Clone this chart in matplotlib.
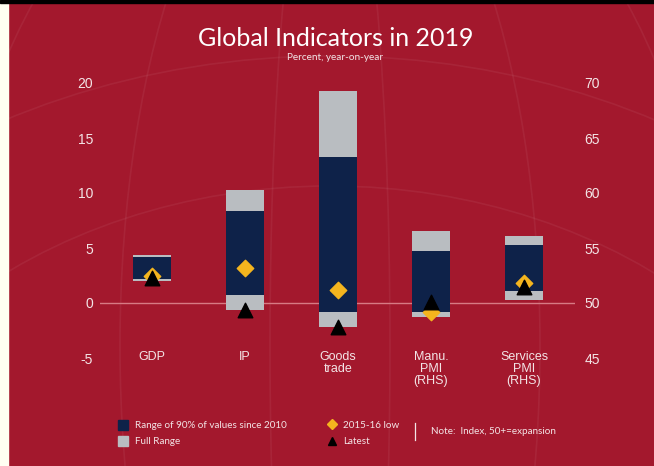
import matplotlib
matplotlib.use("Agg")
import matplotlib.pyplot as plt
from matplotlib.patches import Rectangle, Arc
from matplotlib.lines import Line2D

plt.rcParams["axes.unicode_minus"] = False

# ---------------- data ----------------
categories = ["GDP", "IP", "Goods\ntrade", "Manu.\nPMI\n(RHS)", "Services\nPMI\n(RHS)"]
# left-axis series (GDP, IP, Goods trade), percent y/y
left_full_low = [2.0, -0.6, -2.2]
left_full_high = [4.35, 10.3, 19.3]
left_p90_low = [2.2, 0.7, -0.8]
left_p90_high = [4.2, 8.4, 13.3]
left_low1516 = [2.5, 3.2, 1.2]
left_latest = [2.3, -0.6, -2.2]
# right-axis series (Manu. PMI, Services PMI), index
right_full_low = [48.7, 50.3]
right_full_high = [56.5, 56.1]
right_p90_low = [49.2, 51.1]
right_p90_high = [54.7, 55.3]
right_low1516 = [49.2, 51.8]
right_latest = [50.1, 51.5]

left_ticks = [-5, 0, 5, 10, 15, 20]
right_ticks = [45, 50, 55, 60, 65, 70]

# ---------------- style ----------------
BG = "#A3182D"
NAVY = "#0E2249"
GRAY = "#B9BDC1"
GOLD = "#F4B51E"
TXT = "#F3E4E6"
ZERO = "#D77A84"
W, H = 654, 466

fig = plt.figure(figsize=(W / 100, H / 100), dpi=100, facecolor=BG)

# faint globe grid decoration
deco = fig.add_axes([0, 0, 1, 1], zorder=0)
deco.set_xlim(0, W); deco.set_ylim(0, H); deco.axis("off")
deco.patch.set_alpha(0)
lc = (1, 1, 1, 0.055)
for r in [430, 560, 700, 860]:
    deco.add_patch(Arc((330, -150), 2 * r * 1.25, 2 * r, theta1=0, theta2=180, color=lc, lw=1.2))
for cx, w in [(330, 120), (330, 420), (330, 760), (330, 1150)]:
    deco.add_patch(Arc((cx, 120), w, 1100, theta1=0, theta2=360, color=lc, lw=1.2))
# scan border artefacts
deco.add_patch(Rectangle((0, 0), 8, H, color="#FFFFF2", zorder=5))
deco.add_patch(Rectangle((0, H - 3), W, 3, color="black", zorder=5))

# main axes: y from -5 (px 358) to 20 (px 83); x centres 152..524 step 93
x0px, x1px = 100, 575
ax = fig.add_axes([x0px / W, (H - 358) / H, (x1px - x0px) / W, (358 - 83) / H], zorder=2)
ax.patch.set_alpha(0)
ax.set_ylim(-5, 20)
ax.set_xlim(-(152 - x0px) / 93, 4 + (x1px - 524) / 93)
for s in ax.spines.values():
    s.set_visible(False)
ax.set_xticks([])
ax.set_yticks(left_ticks)
ax.tick_params(axis="y", length=0, pad=5, labelsize=10, labelcolor=TXT)
for lab in ax.get_yticklabels():
    lab.set_fontfamily("Liberation Sans")

ax2 = ax.twinx()
ax2.patch.set_alpha(0)
ax2.set_ylim(45, 70)
for s in ax2.spines.values():
    s.set_visible(False)
ax2.set_yticks(right_ticks)
ax2.tick_params(axis="y", length=0, pad=7, labelsize=10, labelcolor=TXT)
for lab in ax2.get_yticklabels():
    lab.set_fontfamily("Liberation Sans")

ax.axhline(0, color=ZERO, lw=1.0, zorder=1)

bw = 0.41
xl = [0, 1, 2]
xr = [3, 4]
ax.bar(xl, [h - l for h, l in zip(left_full_high, left_full_low)], bottom=left_full_low,
       width=bw, color=GRAY, zorder=2)
ax.bar(xl, [h - l for h, l in zip(left_p90_high, left_p90_low)], bottom=left_p90_low,
       width=bw, color=NAVY, zorder=3)
ax.scatter(xl, left_low1516, marker="D", s=70, color=GOLD, zorder=4)
ax.scatter(xl, left_latest, marker="^", s=110, color="black", zorder=5, clip_on=False)

ax2.bar(xr, [h - l for h, l in zip(right_full_high, right_full_low)], bottom=right_full_low,
        width=bw, color=GRAY, zorder=2)
ax2.bar(xr, [h - l for h, l in zip(right_p90_high, right_p90_low)], bottom=right_p90_low,
        width=bw, color=NAVY, zorder=3)
ax2.scatter(xr, right_low1516, marker="D", s=70, color=GOLD, zorder=4)
ax2.scatter(xr, right_latest, marker="^", s=110, color="black", zorder=5)

for i, c in enumerate(categories):
    ax.text(i, -5 + 6.5 / 11, c, ha="center", va="top", fontsize=9, color=TXT,
            linespacing=0.98, family="Liberation Sans")

# title
fig.text(336 / W, 1 - 38 / H, "Global Indicators in 2019", ha="center", va="center",
         fontsize=18, color="white", family="Lato")
fig.text(335 / W, 1 - 57 / H, "Percent, year-on-year", ha="center", va="center",
         fontsize=7.2, color=TXT, family="Lato")

# legend
def fx(px):
    return px / W

def fy(py):
    return 1 - py / H

fig.add_artist(Line2D([fx(123)], [fy(425)], marker="s", ms=6.5, color=NAVY, ls="none"))
fig.add_artist(Line2D([fx(123)], [fy(441)], marker="s", ms=6.5, color=GRAY, ls="none"))
fig.add_artist(Line2D([fx(332)], [fy(424)], marker="D", ms=5, color=GOLD, ls="none"))
fig.add_artist(Line2D([fx(332)], [fy(441)], marker="^", ms=6, color="black", ls="none"))
fig.add_artist(Line2D([fx(415), fx(415)], [fy(423), fy(440)], color=TXT, lw=0.9))
lkw = dict(va="center", ha="left", fontsize=7.1, color=TXT, family="Lato")
fig.text(fx(135), fy(425), "Range of 90% of values since 2010", **lkw)
fig.text(fx(135), fy(441), "Full Range", **lkw)
fig.text(fx(343), fy(425), "2015-16 low", **lkw)
fig.text(fx(343), fy(441), "Latest", **lkw)
fig.text(fx(431), fy(432), "Note:  Index, 50+=expansion", **lkw)

fig.savefig("out.png", dpi=100, facecolor=BG)
